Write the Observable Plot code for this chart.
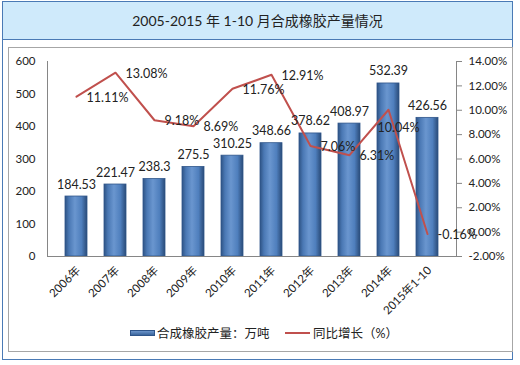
<!DOCTYPE html>
<html><head><meta charset="utf-8">
<script src="https://cdn.jsdelivr.net/npm/d3@7"></script>
<script src="https://cdn.jsdelivr.net/npm/@observablehq/plot@0.6"></script>
<style>
body{margin:0;background:#fff;font-family:Lato,"Noto Sans CJK SC",sans-serif;}
#wrap{position:relative;width:520px;height:365px;overflow:hidden;}
#frame{position:absolute;left:2px;top:1px;width:511px;height:359px;border:1.5px solid #4a7ab5;box-sizing:border-box;}
#title{position:absolute;left:2px;top:1px;width:511px;height:39px;background:#cfeafb;border:1.5px solid #4a7ab5;box-sizing:border-box;text-align:center;line-height:37px;font-size:14px;color:#222;}
#inner{position:absolute;left:8px;top:47px;width:505px;height:305px;border:1px solid #a6a6a6;box-sizing:border-box;}
#chart{position:absolute;left:8px;top:48px;}
#legend{position:absolute;left:0;top:323px;width:520px;font-size:12.5px;color:#222;}
.sw{position:absolute;}
</style></head>
<body><div id="wrap">
<div id="frame"></div>
<div id="title">2005-2015 年 1-10 月合成橡胶产量情况</div>
<div id="inner"></div>
<div id="chart"></div>
<div id="legend">
 <div class="sw" style="left:130px;top:7px;width:25px;height:6px;background:linear-gradient(#6c95cb,#3a659c);border:1px solid #2f558a;box-sizing:border-box;"></div>
 <div class="sw" style="left:157px;top:0px;">合成橡胶产量：万吨</div>
 <div class="sw" style="left:285px;top:9px;width:25px;height:2px;background:#c0504d;"></div>
 <div class="sw" style="left:313px;top:0px;">同比增长（%）</div>
</div>
</div>
<script>
const categories = ["2006年","2007年","2008年","2009年","2010年","2011年","2012年","2013年","2014年","2015年1-10"];
const output = [184.53,221.47,238.3,275.5,310.25,348.66,378.62,408.97,532.39,426.56];
const growth = [11.11,13.08,9.18,8.69,11.76,12.91,7.06,6.31,10.04,-0.16];
const outputLabels = ["184.53","221.47","238.3","275.5","310.25","348.66","378.62","408.97","532.39","426.56"];
const pctTicks = [-2,0,2,4,6,8,10,12,14];
const belowLabelCats = ["2014年"];

const data = categories.map((c,i)=>({c, v:output[i], g:growth[i], lab:outputLabels[i]}));
const toY = p => (p + 2) / 16 * 600;
const pctText = d => d.g.toFixed(2) + "%";

const plot = Plot.plot({
  width: 505, height: 304,
  marginLeft: 39, marginRight: 57, marginTop: 13, marginBottom: 96,
  style: {fontFamily: 'Lato,"Noto Sans CJK SC",sans-serif', fontSize: "11px", color: "#222", background: "transparent"},
  x: {domain: categories, padding: 0.43},
  y: {domain: [0, 600]},
  marks: [
    Plot.barY(data, {x: "c", y: "v", fill: "#4f81bd", stroke: "#2f558a", strokeWidth: 0.8, className: "bars"}),
    Plot.ruleY([0], {stroke: "#868686"}),
    Plot.frame({anchor: "left", stroke: "#868686"}),
    Plot.frame({anchor: "right", stroke: "#868686"}),
    Plot.axisY({anchor: "left", ticks: [0,100,200,300,400,500,600], tickSize: 0, tickPadding: 12, label: null, fontSize: 11.5}),
    Plot.axisY(pctTicks.map(toY), {anchor: "right", tickSize: 5, tickPadding: 7, stroke: "#868686", tickFormat: (d) => (d/600*16 - 2).toFixed(2) + "%", label: null, fontSize: 11.5}),
    Plot.axisX({tickRotate: -45, tickSize: 0, tickPadding: 12, dx: 2, label: null, fontSize: 11.5}),
    Plot.line(data, {x: "c", y: d => toY(d.g), stroke: "#c0504d", strokeWidth: 2}),
    Plot.text(data, {x: "c", y: "v", text: "lab", dy: -12, fontSize: 12.5, fill: "#222"}),
    Plot.text(data, {filter: d => !belowLabelCats.includes(d.c), x: "c", y: d => toY(d.g), text: pctText, textAnchor: "start", dx: 10, dy: 1, fontSize: 12.5, fill: "#222"}),
    Plot.text(data, {filter: d => belowLabelCats.includes(d.c), x: "c", y: d => toY(d.g), text: pctText, dx: 10, dy: 18, fontSize: 12.5, fill: "#222"})
  ]
});
document.getElementById("chart").appendChild(plot);

// bar gradient
const svg = d3.select(plot);
const defs = svg.insert("defs", ":first-child");
const g = defs.append("linearGradient").attr("id","barg").attr("x1","0").attr("x2","1").attr("y1","0").attr("y2","0");
[["0%","#2e5384"],["18%","#4a78b4"],["45%","#6a96cf"],["75%","#4f7fbd"],["100%","#2a4b78"]].forEach(([o,c])=>g.append("stop").attr("offset",o).attr("stop-color",c));
svg.selectAll(".bars rect").attr("fill","url(#barg)");
</script>
</body></html>
